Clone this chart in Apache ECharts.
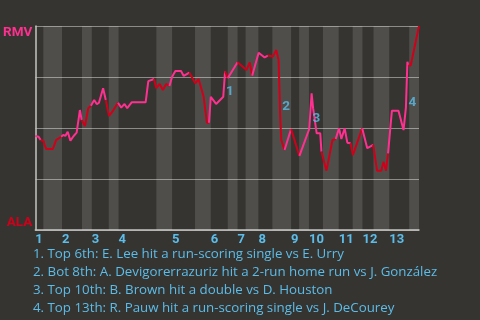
<!DOCTYPE html>
<html><head><meta charset="utf-8">
<script src="https://cdn.jsdelivr.net/npm/echarts@6/dist/echarts.min.js"></script>
<style>html,body{margin:0;padding:0;background:#363430}#c{width:480px;height:320px}</style>
</head><body><div id="c"></div>
<script>
// ---- data ----
const innings = ['1','2','3','4','5','6','7','8','9','10','11','12','13'];
const inningStart = [0, 9, 19, 28, 46, 59, 68, 75, 86, 92, 102, 110, 119];
const bottomStart = [2.7, 15.7, 24.7, 40.7, 53.7, 64.7, 70.7, 79.7, 88.7, 96.7, 106.7, 113.7, 125.7];
const gameEnd = 129;
const playX = [0,1.1,1.8,2.8,3.1,3.7,5.9,7,8.7,9.4,10.1,10.9,11.8,12.9,13.9,15,15.6,16.7,17.8,18.7,19.8,20.7,21.4,22.8,23.7,24.8,25.9,27.8,28.9,30,30.9,32.4,37.1,38,39.9,40.7,41.8,42.9,44,45.1,46,47.1,49,49.9,51.8,53.8,54.9,56.6,57.7,58.4,59,60.8,63.2,63.8,64.7,68,71,72.1,72.9,75.1,77.1,78.2,79.9,81,81.8,82.3,82.7,83.8,86,88.8,92.1,92.9,93.4,94.6,95.8,96.2,97.9,99.9,101,102.1,102.9,104,104.9,106,106.8,109.9,111.6,112.4,113.6,114.9,116.3,117.1,117.9,118.6,119.6,119.9,122.1,123.8,124.6,125.1,125.4,126.2,129];
const winProb = [0.461,0.457,0.441,0.436,0.417,0.397,0.397,0.441,0.457,0.466,0.461,0.482,0.438,0.461,0.477,0.588,0.539,0.51,0.597,0.609,0.637,0.616,0.624,0.695,0.637,0.559,0.58,0.624,0.6,0.618,0.597,0.626,0.626,0.73,0.74,0.695,0.716,0.686,0.716,0.706,0.751,0.779,0.779,0.755,0.771,0.719,0.74,0.653,0.526,0.526,0.653,0.618,0.653,0.777,0.744,0.822,0.784,0.822,0.756,0.869,0.846,0.855,0.85,0.882,0.833,0.572,0.441,0.392,0.495,0.363,0.495,0.67,0.597,0.474,0.474,0.384,0.291,0.441,0.446,0.499,0.446,0.499,0.428,0.425,0.368,0.499,0.401,0.408,0.417,0.291,0.291,0.335,0.291,0.376,0.539,0.585,0.585,0.49,0.6,0.825,0.806,0.806,1.0];
const eventFromX = [63.2, 81.8, 92.1, 123.8];
const eventToX = [63.8, 82.7, 92.9, 125.1];
const eventNotes = [
  '1. Top 6th: E. Lee hit a run-scoring single vs E. Urry',
  '2. Bot 8th: A. Devigorerrazuriz hit a 2-run home run vs J. González',
  '3. Top 10th: B. Brown hit a double vs D. Houston',
  '4. Top 13th: R. Pauw hit a run-scoring single vs J. DeCourey'
];
const teamTop = 'RMV';
const teamBottom = 'ALA';

// ---- styles ----
const PINK = '#ff3090', RED = '#d0001a', BLUE = '#5bbde9';

// half-inning segments: [start, end, colour]
const halves = [];
inningStart.forEach((s, i) => {
  const e = i + 1 < inningStart.length ? inningStart[i + 1] : gameEnd;
  halves.push([s, bottomStart[i], PINK]);
  halves.push([bottomStart[i], e, RED]);
});
const lineSeries = halves.map(([s, e, col], h) => {
  const last = h === halves.length - 1;
  const pts = [];
  playX.forEach((x, i) => {
    if (x >= s && (x < e || (last && x <= e))) pts.push([x, winProb[i]]);
  });
  const firstIdx = playX.findIndex(x => x >= s);
  if (firstIdx > 0) pts.unshift([playX[firstIdx - 1], winProb[firstIdx - 1]]);
  return {
    type: 'line', data: pts, showSymbol: false, symbol: 'none', silent: true,
    lineStyle: {width: 2, color: col}, itemStyle: {color: col}, z: 3
  };
});
const bands = bottomStart.map((s, i) => [{xAxis: s}, {xAxis: i + 1 < inningStart.length ? inningStart[i + 1] : gameEnd}]);
const eventPts = eventToX.map((tx, k) => {
  const a = winProb[playX.indexOf(eventFromX[k])];
  const b = winProb[playX.indexOf(tx)];
  return {value: [tx, (a + b) / 2], label: {formatter: String(k + 1)}};
});

const chart = echarts.init(document.getElementById('c'), null, {renderer: 'canvas'});
chart.setOption({
  backgroundColor: '#363430',
  animation: false,
  title: {
    text: eventNotes.join('\n'),
    left: 33, top: 245, padding: 0,
    textStyle: {color: BLUE, fontSize: 13.3, fontWeight: 'normal', fontFamily: 'Open Sans', lineHeight: 18}
  },
  grid: {left: 32, right: 61, top: 26, bottom: 90, containLabel: false},
  xAxis: {
    type: 'value', min: 0, max: gameEnd,
    splitLine: {show: false},
    axisTick: {show: false},
    axisLine: {show: true, lineStyle: {color: '#c4c4c2', width: 1.5}},
    axisLabel: {
      customValues: inningStart,
      formatter: v => innings[inningStart.indexOf(v)] || '',
      align: 'left', margin: 3, color: BLUE, fontWeight: 'bold', fontSize: 13, fontFamily: 'Roboto'
    }
  },
  yAxis: {
    type: 'value', min: 0, max: 1, interval: 0.25,
    axisLine: {show: true, lineStyle: {color: '#c4c4c2', width: 1.5}},
    axisTick: {show: false},
    splitLine: {lineStyle: {color: '#8c8b89', width: 1}},
    axisLabel: {
      margin: 3,
      verticalAlignMaxLabel: 'top', verticalAlignMinLabel: 'bottom',
      formatter: v => v === 1 ? '{t|' + teamTop + '}' : (v === 0 ? '{b|' + teamBottom + '}' : ''),
      rich: {
        t: {color: PINK, fontWeight: 'bold', fontSize: 13.5, fontFamily: 'Roboto'},
        b: {color: RED, fontWeight: 'bold', fontSize: 13.5, fontFamily: 'Roboto'}
      }
    }
  },
  series: [
    {
      type: 'line', data: [], silent: true,
      markArea: {silent: true, itemStyle: {color: 'rgba(255,255,255,0.13)'}, data: bands}
    },
    ...lineSeries,
    {
      type: 'scatter', data: eventPts, symbolSize: 0, silent: true, z: 4,
      label: {show: true, position: 'right', distance: 1, offset: [0, 7], color: BLUE, fontWeight: 'bold', fontSize: 13.5, fontFamily: 'Roboto'}
    }
  ]
});
</script></body></html>
